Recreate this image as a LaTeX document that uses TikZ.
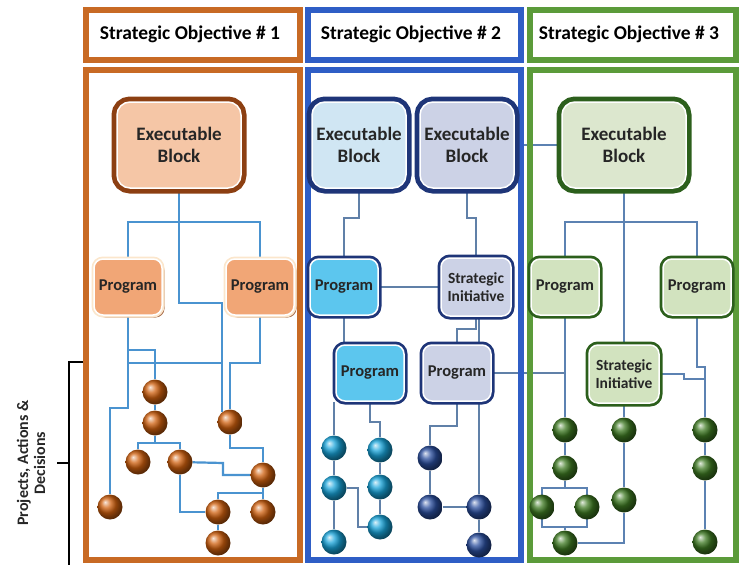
\documentclass[tikz,border=0pt]{standalone}
\usepackage{fontspec}
\setmainfont{Carlito}
\usetikzlibrary{shadows,backgrounds}

\definecolor{orgfrm}{HTML}{C86A24}
\definecolor{blufrm}{HTML}{2F5EC6}
\definecolor{grnfrm}{HTML}{5B9B3A}
\definecolor{orgdk}{HTML}{8C3F12}
\definecolor{orgfill}{HTML}{F5C6A6}
\definecolor{orgprg}{HTML}{F1A676}
\definecolor{orgedge}{HTML}{FBE6CC}
\definecolor{bludk}{HTML}{1E3578}
\definecolor{blufill}{HTML}{D0E6F3}
\definecolor{lavfill}{HTML}{CCD2E6}
\definecolor{cyanprg}{HTML}{5CC6EE}
\definecolor{grndk}{HTML}{2C5F1C}
\definecolor{grnfill}{HTML}{DCE7CE}
\definecolor{grnprg}{HTML}{D2E3BF}
\definecolor{lnorg}{HTML}{4A93D0}
\definecolor{lnblu}{HTML}{6080A8}
\definecolor{lngrn}{HTML}{5C82B2}
\definecolor{txt}{HTML}{262626}
\definecolor{balorg}{HTML}{D0600E}
\definecolor{balcyan}{HTML}{18A4DA}
\definecolor{balblu}{HTML}{2A4E9E}
\definecolor{balgrn}{HTML}{3E7A22}

\begin{document}
\begin{tikzpicture}[x=1pt,y=-1pt,
  shd/.style={drop shadow={fill=#1,opacity=.75,shadow xshift=2.5pt,shadow yshift=-2.5pt}},
  blk/.style n args={3}{fill=#1,draw=white,line width=1.5pt,preaction={draw=#2,line width=#3},
    align=center,inner sep=2pt,text=txt},
  exe/.style={minimum width=124pt,minimum height=86pt,rounded corners=13pt,
    font=\bfseries\fontsize{19}{22}\selectfont},
  prg/.style={minimum width=68pt,minimum height=56pt,rounded corners=9pt,
    font=\bfseries\fontsize{16.5}{18}\selectfont},
  sini/.style={minimum width=70pt,minimum height=58pt,rounded corners=9pt,
    font=\bfseries\fontsize{15.5}{18}\selectfont},
  sph/.style={circle,minimum size=25pt,inner sep=0pt,ball color=#1},
  link/.style={line width=2.2pt,draw=#1},
  frm/.style={line width=6pt,draw=#1},
  hdr/.style={font=\bfseries\fontsize{19.5}{21}\selectfont,text=black}]

   \useasboundingbox (0,0) rectangle (739,565);

   % 列の枠
   \draw[frm=orgfrm] (86,10) rectangle (300,60);
   \draw[frm=orgfrm] (86,70) rectangle (300,560);
   \draw[frm=blufrm] (308,10) rectangle (521,60);
   \draw[frm=blufrm] (308,70) rectangle (521,560);
   \draw[frm=grnfrm] (530,10) rectangle (736,60);
   \draw[frm=grnfrm] (530,70) rectangle (736,560);

   \node[hdr] (h1) at (190,34) {Strategic Objective \# 1};
   \node[hdr] (h2) at (411,34) {Strategic Objective \# 2};
   \node[hdr] (h3) at (629,34) {Strategic Objective \# 3};

   % 左の括弧
   \node[font=\bfseries\fontsize{16}{17}\selectfont,rotate=90,align=center,text=txt]
     (pad) at (31,463) {Projects, Actions \&\\Decisions};
   \draw[line width=1.6pt] (83,362) -- (69,362) -- (69,565) (69,463) -- (57,463);

   % 第1列
   \node[shd=orgdk,blk={orgfill}{orgdk}{11pt},exe] (eb1) at (179,145) {Executable\\Block};
   \node[shd=orgdk,blk={orgprg}{orgedge}{5pt},prg] (pl1) at (128,287) {Program};
   \node[shd=orgdk,blk={orgprg}{orgedge}{5pt},prg] (pr1) at (260,287) {Program};
   \foreach \n/\p in {a1/{155,392},a2/{155,423},a3/{230,422},a4/{138,462},a5/{180,462},
                      a6/{263,475},a7/{110,507},a8/{218,512},a9/{263,512},a10/{218,543}}
     \node[sph=balorg] (\n) at (\p) {};

   % 第2列
   \node[shd=bludk,blk={blufill}{bludk}{11pt},exe,minimum width=94pt] (eb2) at (359,145) {Executable\\Block};
   \node[shd=bludk,blk={lavfill}{bludk}{11pt},exe,minimum width=94pt] (eb3) at (467,145) {Executable\\Block};
   \node[shd=bludk,blk={cyanprg}{bludk}{7pt},prg] (pg2) at (344,287) {Program};
   \node[shd=bludk,blk={lavfill}{bludk}{7pt},sini] (si2) at (476,287) {Strategic\\Initiative};
   \node[shd=bludk,blk={cyanprg}{bludk}{7pt},prg] (pg3) at (370,373) {Program};
   \node[shd=bludk,blk={lavfill}{bludk}{7pt},prg] (pg4) at (457,373) {Program};
   \foreach \n/\p in {c1/{334,448},c2/{380,450},c3/{334,488},c4/{380,487},c5/{380,527},c6/{334,542}}
     \node[sph=balcyan] (\n) at (\p) {};
   \foreach \n/\p in {d1/{430,458},d2/{430,507},d3/{479,507},d4/{479,545}}
     \node[sph=balblu] (\n) at (\p) {};

   % 第3列
   \node[shd=grndk,blk={grnfill}{grndk}{11pt},exe] (eb4) at (624,145) {Executable\\Block};
   \node[shd=grndk,blk={grnprg}{grndk}{7pt},prg] (pl3) at (565,287) {Program};
   \node[shd=grndk,blk={grnprg}{grndk}{7pt},prg] (pr3) at (697,287) {Program};
   \node[shd=grndk,blk={grnprg}{grndk}{7pt},sini] (si3) at (624,374) {Strategic\\Initiative};
   \foreach \n/\p in {g1/{565,430},g2/{565,468},g3/{542,507},g4/{587,507},g5/{565,543},
                      g6/{624,430},g7/{624,500},g8/{705,430},g9/{705,468},g10/{705,542}}
     \node[sph=balgrn] (\n) at (\p) {};

   % 接続線
   \begin{pgfonlayer}{background}
   \draw[link=lnorg] (eb1.south) |- (222,303) -- (222,412);
   \draw[link=lnorg] (pl1.north) -- (pl1.north |- 0,222) -| (pr1.north);
   \draw[link=lnorg] (pl1.south) -- (128,408) -| (a7);
   \draw[link=lnorg] (pl1.south |- 0,350) -| (a1);
   \draw[link=lnorg] (pl1.south |- 0,363) -- (222,363);
   \draw[link=lnorg] (pr1.south) |- (a3 |- 0,363) -- (a3);
   \draw[link=lnorg] (a1) -- (a2) -- (a2 |- 0,443);
   \draw[link=lnorg] (a4) |- (a2 |- 0,443) -| (a5);
   \draw[link=lnorg] (a5) -- (223,463) |- (a6);
   \draw[link=lnorg] (a3) |- (a6 |- 0,448) -- (a6) -- (a9);
   \draw[link=lnorg] (a5) |- (a8);
   \draw[link=lnorg] (a8) |- (a9 |- 0,493);
   \draw[link=lnorg] (a8) -- (a10);

   \draw[link=lnblu] (eb2.south) -- ++(0,29) -| (pg2.north);
   \draw[link=lnblu] (eb3.south) -- ++(0,29) -| (si2.north);
   \draw[link=lnblu] (pg2) -- (si2);
   \draw[link=lnblu] (pg2.south) -- (pg2.south |- pg3.north);
   \draw[link=lnblu] (si2.south) -- ++(0,12) -| (pg4.north);
   \draw[link=lnblu] (si2.south -| d3) -- (d3);
   \draw[link=lnblu] (pg4) -- (pg4 -| pl3);
   \draw[link=lnblu] (pg3.south -| c1) -- (c1) -- (c3) -- (c6);
   \draw[link=lnblu] (pg3.south) |- (c2 |- 0,422) -- (c2) -- (c4) -- (c5);
   \draw[link=lnblu] (c3) -- ++(24,0) |- (c5);
   \draw[link=lnblu] (pg4.south) -- ++(0,24) -| (d1);
   \draw[link=lnblu] (d1) -- (d2) -- (d3) -- (d4);

   \draw[link=lngrn] (eb3.east) -- (eb4.west);
   \draw[link=lngrn] (eb4.south) -- (si3.north);
   \draw[link=lngrn] (pl3.north) |- (pr3.north |- 0,222) -- (pr3.north);
   \draw[link=lngrn] (pl3.south) -- (g1) -- (g2) -- (g2 |- 0,488);
   \draw[link=lngrn] (g3 |- 0,488) rectangle (g4 |- 0,527);
   \draw[link=lngrn] (g2 |- 0,527) -- (g5);
   \draw[link=lngrn] (si3.south) -- (g6) -- (g7) |- (g5);
   \draw[link=lngrn] (si3.east) -- ++(24,0) -- ++(0,5) -- (g8 |- 0,379);
   \draw[link=lngrn] (pr3.south) |- (g8 |- 0,367) -- (g8) -- (g9) -- (g10);
   \end{pgfonlayer}

\end{tikzpicture}
\end{document}
